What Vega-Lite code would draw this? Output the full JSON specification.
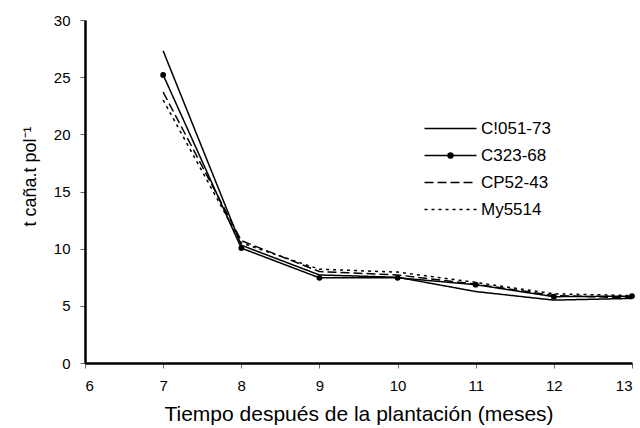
{
  "$schema": "https://vega.github.io/schema/vega-lite/v6.json",
  "width": 547,
  "height": 343,
  "autosize": {"type": "none"},
  "padding": {"left": 85, "top": 20, "right": 8, "bottom": 65},
  "background": "white",
  "config": {
    "view": {"stroke": null},
    "font": "Liberation Sans",
    "axis": {
      "grid": false,
      "domainColor": "black",
      "domainWidth": 2.5,
      "tickColor": "#666666",
      "tickWidth": 1,
      "tickSize": 5,
      "labelColor": "black",
      "labelFont": "Liberation Sans",
      "labelFontSize": 15,
      "titleFont": "Liberation Sans",
      "titleFontWeight": "normal",
      "titleColor": "black"
    },
    "legend": {
      "symbolSize": 300,
      "symbolOpacity": 1,
      "symbolStrokeColor": "black",
      "symbolFillColor": "black",
      "symbolStrokeWidth": 1.5,
      "labelFontSize": 17,
      "labelFont": "Liberation Sans",
      "labelColor": "black",
      "labelOffset": 21,
      "rowPadding": 9,
      "padding": 0
    }
  },
  "data": {
    "values": [
      {"series": "C!051-73", "month": 7, "value": 27.3},
      {"series": "C!051-73", "month": 8, "value": 10.3},
      {"series": "C!051-73", "month": 9, "value": 7.7},
      {"series": "C!051-73", "month": 10, "value": 7.5},
      {"series": "C!051-73", "month": 11, "value": 6.25},
      {"series": "C!051-73", "month": 12, "value": 5.5},
      {"series": "C!051-73", "month": 13, "value": 5.65},
      {"series": "C323-68", "month": 7, "value": 25.2},
      {"series": "C323-68", "month": 8, "value": 10.05},
      {"series": "C323-68", "month": 9, "value": 7.45},
      {"series": "C323-68", "month": 10, "value": 7.45},
      {"series": "C323-68", "month": 11, "value": 6.85},
      {"series": "C323-68", "month": 12, "value": 5.8},
      {"series": "C323-68", "month": 13, "value": 5.85},
      {"series": "CP52-43", "month": 7, "value": 23.7},
      {"series": "CP52-43", "month": 8, "value": 10.7},
      {"series": "CP52-43", "month": 9, "value": 8.0},
      {"series": "CP52-43", "month": 10, "value": 7.7},
      {"series": "CP52-43", "month": 11, "value": 6.9},
      {"series": "CP52-43", "month": 12, "value": 5.9},
      {"series": "CP52-43", "month": 13, "value": 5.7},
      {"series": "My5514", "month": 7, "value": 23.0},
      {"series": "My5514", "month": 8, "value": 10.5},
      {"series": "My5514", "month": 9, "value": 8.2},
      {"series": "My5514", "month": 10, "value": 7.95},
      {"series": "My5514", "month": 11, "value": 7.05},
      {"series": "My5514", "month": 12, "value": 6.05},
      {"series": "My5514", "month": 13, "value": 5.9}
    ]
  },
  "encoding": {
    "x": {
      "field": "month",
      "type": "quantitative",
      "scale": {"domain": [6, 13], "nice": false, "zero": false},
      "axis": {"values": [6, 7, 8, 9, 10, 11, 12, 13], "title": "Tiempo después de la plantación (meses)", "labelPadding": 10, "titlePadding": 10, "titleFontSize": 21}
    },
    "y": {
      "field": "value",
      "type": "quantitative",
      "scale": {"domain": [0, 30], "nice": false},
      "axis": {"values": [0, 5, 10, 15, 20, 25, 30], "title": "t caña.t pol⁻¹", "labelPadding": 10, "titlePadding": 14, "titleFontSize": 18, "titleY": 156}
    }
  },
  "layer": [
    {
      "mark": {"type": "line", "color": "black", "strokeWidth": 1.5},
      "encoding": {
        "detail": {"field": "series"},
        "strokeDash": {
          "field": "series",
          "type": "nominal",
          "scale": {"domain": ["C!051-73", "C323-68", "CP52-43", "My5514"], "range": [[1, 0], [1, 0], [9, 4], [3, 4]]},
          "legend": {"title": null, "orient": "none", "legendX": 356, "legendY": 99, "encode": {"symbols": {"update": {"fill": {"value": "black"}, "stroke": {"value": "black"}, "opacity": {"value": 1}}}}}
        }
      }
    },
    {
      "transform": [{"filter": "datum.series === 'C323-68'"}],
      "mark": {"type": "point", "shape": "circle", "filled": true, "color": "black", "size": 34, "opacity": 1}
    },
    {
      "mark": {"type": "point", "filled": false, "color": "black", "opacity": 0, "strokeWidth": 1.5},
      "encoding": {
        "shape": {
          "field": "series",
          "type": "nominal",
          "scale": {"domain": ["C!051-73", "C323-68", "CP52-43", "My5514"], "range": ["M-3,0L3,0", "M-3,0L3,0M0.3,0A0.3,0.3 0 1,1 -0.3,0A0.3,0.3 0 1,1 0.3,0Z", "M-3,0L3,0", "M-3,0L3,0"]},
          "legend": {"title": null, "orient": "none", "legendX": 356, "legendY": 99, "encode": {"symbols": {"update": {"fill": {"value": "black"}, "stroke": {"value": "black"}, "opacity": {"value": 1}}}}}
        }
      }
    }
  ]
}
